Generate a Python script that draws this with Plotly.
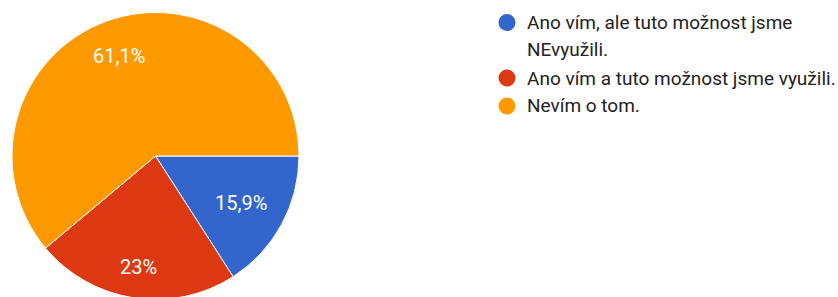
import math
import plotly.graph_objects as go

labels = ["Ano vím, ale tuto možnost jsme NEvyužili.",
          "Ano vím a tuto možnost jsme využili.",
          "Nevím o tom."]
legend_lines = [["Ano vím, ale tuto možnost jsme", "NEvyužili."],
                ["Ano vím a tuto možnost jsme využili."],
                ["Nevím o tom."]]
values = [15.9, 23.0, 61.1]
pct_text = ["15,9%", "23%", "61,1%"]
colors = ["#3366CC", "#DC3912", "#FF9900"]

W, H = 838, 300
FONT = "Roboto, Arial, sans-serif"
LABEL_SIZE = 20

dom_x = [12 / W, 299 / W]
dom_y = [0.5 / H, (H - 12.5) / H]

fig = go.Figure()
fig.add_trace(go.Pie(
    labels=labels, values=values,
    textinfo="none",
    marker=dict(colors=colors, line=dict(color="white", width=1)),
    sort=False, direction="clockwise", rotation=90,
    domain=dict(x=dom_x, y=dom_y),
    hoverinfo="skip", showlegend=False,
))

# slice labels placed Google-Charts style (outer edge of text box near the rim)
cx = (dom_x[0] + dom_x[1]) / 2 * W
cy = (1 - (dom_y[0] + dom_y[1]) / 2) * H
R = min((dom_x[1] - dom_x[0]) * W, (dom_y[1] - dom_y[0]) * H) / 2
char_w = {",": 0.196, "%": 0.733}
total = sum(values)
start = 0.0
for v, t in zip(values, pct_text):
    mid = (start + v / 2) / total * 2 * math.pi  # clockwise from 3 o'clock
    start += v
    hw = sum(char_w.get(c, 0.562) for c in t) * LABEL_SIZE / 2
    hh = 10
    ext = hw * abs(math.cos(mid)) + hh * abs(math.sin(mid))
    r = R * 0.871 - ext
    px = cx + r * math.cos(mid)
    py = cy + r * math.sin(mid)
    fig.add_annotation(x=px / W, y=1 - py / H, xref="paper", yref="paper",
                       xanchor="center", yanchor="middle", showarrow=False,
                       text=t, font=dict(family=FONT, size=LABEL_SIZE, color="white"))

# custom legend (circles + text)
ys = [[22.5, 49], [78], [106]]
for i, lines in enumerate(legend_lines):
    fig.add_shape(type="circle", xref="paper", yref="paper",
                  xsizemode="pixel", ysizemode="pixel",
                  xanchor=507 / W, yanchor=1 - ys[i][0] / H,
                  x0=-8.5, x1=8.5, y0=-8.5, y1=8.5,
                  fillcolor=colors[i], line=dict(width=0))
    for j, line in enumerate(lines):
        fig.add_annotation(x=525 / W, y=1 - ys[i][j] / H, xref="paper", yref="paper",
                           xanchor="left", yanchor="middle", showarrow=False,
                           text=line, font=dict(family=FONT, size=19, color="#222222"))

fig.update_layout(width=W, height=H, margin=dict(l=0, r=0, t=0, b=0),
                  paper_bgcolor="white", plot_bgcolor="white")

fig.write_html("out.html", config={"displayModeBar": False},
               post_script="document.body.style.margin='0';document.body.style.overflow='hidden';document.documentElement.style.overflow='hidden';")
